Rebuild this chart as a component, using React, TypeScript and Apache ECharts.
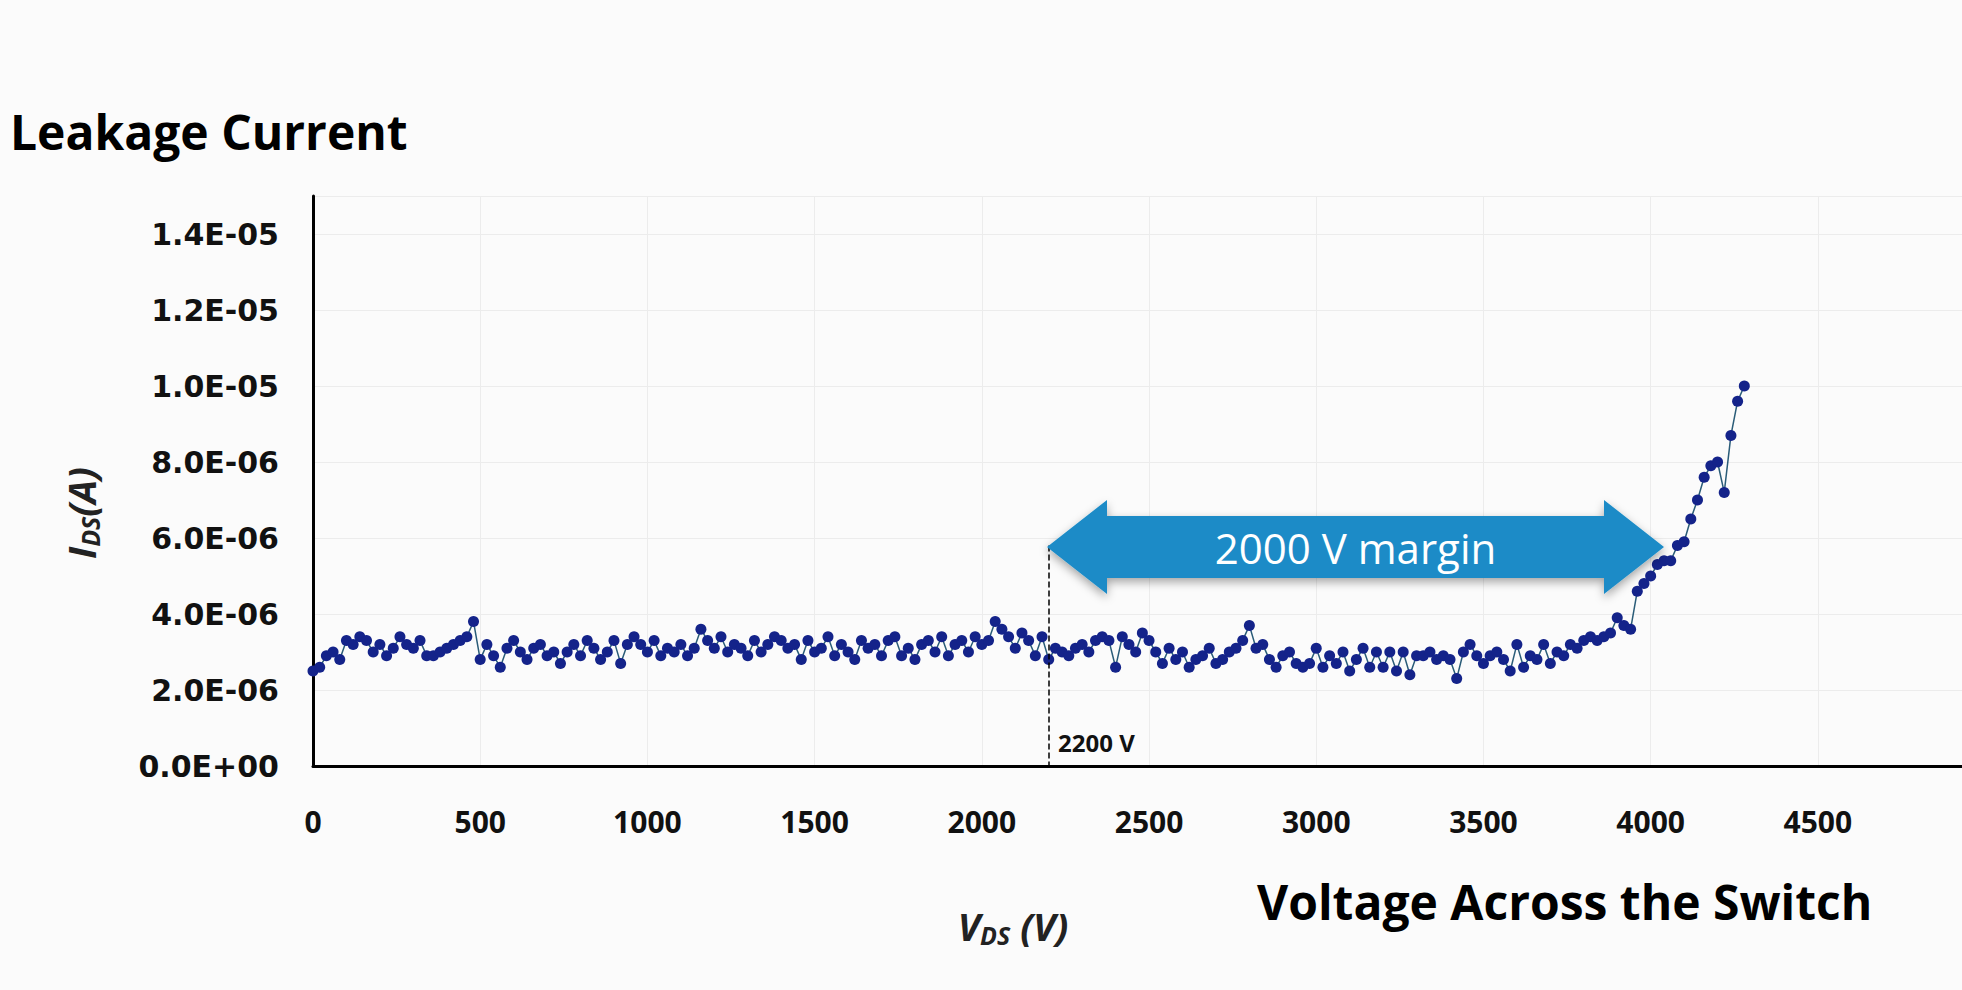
import React, { useEffect, useRef } from "react";
import * as echarts from "echarts";

// leakage current, in microamps, one reading every 20 V from 0 V
const stepVolts = 20;
const currentMicroA = [
  2.5, 2.6, 2.9, 3.0, 2.8, 3.3, 3.2, 3.4, 3.3, 3.0,
  3.2, 2.9, 3.1, 3.4, 3.2, 3.1, 3.3, 2.9, 2.9, 3.0,
  3.1, 3.2, 3.3, 3.4, 3.8, 2.8, 3.2, 2.9, 2.6, 3.1,
  3.3, 3.0, 2.8, 3.1, 3.2, 2.9, 3.0, 2.7, 3.0, 3.2,
  2.9, 3.3, 3.1, 2.8, 3.0, 3.3, 2.7, 3.2, 3.4, 3.2,
  3.0, 3.3, 2.9, 3.1, 3.0, 3.2, 2.9, 3.1, 3.6, 3.3,
  3.1, 3.4, 3.0, 3.2, 3.1, 2.9, 3.3, 3.0, 3.2, 3.4,
  3.3, 3.1, 3.2, 2.8, 3.3, 3.0, 3.1, 3.4, 2.9, 3.2,
  3.0, 2.8, 3.3, 3.1, 3.2, 2.9, 3.3, 3.4, 2.9, 3.1,
  2.8, 3.2, 3.3, 3.0, 3.4, 2.9, 3.2, 3.3, 3.0, 3.4,
  3.2, 3.3, 3.8, 3.6, 3.4, 3.1, 3.5, 3.3, 2.9, 3.4,
  2.8, 3.1, 3.0, 2.9, 3.1, 3.2, 3.0, 3.3, 3.4, 3.3,
  2.6, 3.4, 3.2, 3.0, 3.5, 3.3, 3.0, 2.7, 3.1, 2.8,
  3.0, 2.6, 2.8, 2.9, 3.1, 2.7, 2.8, 3.0, 3.1, 3.3,
  3.7, 3.1, 3.2, 2.8, 2.6, 2.9, 3.0, 2.7, 2.6, 2.7,
  3.1, 2.6, 2.9, 2.7, 3.0, 2.5, 2.8, 3.1, 2.6, 3.0,
  2.6, 3.0, 2.5, 3.0, 2.4, 2.9, 2.9, 3.0, 2.8, 2.9,
  2.8, 2.3, 3.0, 3.2, 2.9, 2.7, 2.9, 3.0, 2.8, 2.5,
  3.2, 2.6, 2.9, 2.8, 3.2, 2.7, 3.0, 2.9, 3.2, 3.1,
  3.3, 3.4, 3.3, 3.4, 3.5, 3.9, 3.7, 3.6, 4.6, 4.8,
  5.0, 5.3, 5.4, 5.4, 5.8, 5.9, 6.5, 7.0, 7.6, 7.9,
  8.0, 7.2, 8.7, 9.6, 10.0,
];

const marginStartV = 2200;
const marginTopA = 5.8e-6;

const fmtSci = (v: number) => {
  const [m, e] = v.toExponential(1).split("e");
  const n = parseInt(e, 10);
  return m + "E" + (n < 0 ? "-" : "+") + String(Math.abs(n)).padStart(2, "0");
};

const App: React.FC = () => {
  const chartRef = useRef<HTMLDivElement | null>(null);

  useEffect(() => {
    document.body.style.margin = "0";
    if (!chartRef.current) return;
    const chart = echarts.init(chartRef.current, null, { renderer: "svg" });

    const points = currentMicroA.map((c, i) => [i * stepVolts, c * 1e-6]);

    // double arrow, pixel layout
    const ax1 = 1047, ax2 = 1664, ay = 547, sh = 31, hh = 47, hl = 60;
    const arrow: number[][] = [
      [ax1, ay], [ax1 + hl, ay - hh], [ax1 + hl, ay - sh], [ax2 - hl, ay - sh],
      [ax2 - hl, ay - hh], [ax2, ay], [ax2 - hl, ay + hh], [ax2 - hl, ay + sh],
      [ax1 + hl, ay + sh], [ax1 + hl, ay + hh],
    ];

    chart.setOption({
      animation: false,
      backgroundColor: "#fbfbfb",
      grid: { left: 313, right: 0, top: 196, bottom: 224 },
      xAxis: {
        type: "value",
        min: 0,
        max: 4931,
        interval: 500,
        axisLine: { lineStyle: { color: "#000", width: 3 } },
        axisTick: { show: false },
        splitLine: { lineStyle: { color: "#ececec" } },
        axisLabel: {
          showMaxLabel: false,
          margin: 40,
          formatter: (v: number) => String(v),
          color: "#111",
          fontWeight: "bold",
          fontSize: 30,
          fontFamily: "Open Sans, sans-serif",
        },
      },
      yAxis: {
        type: "value",
        min: 0,
        max: 1.5e-5,
        interval: 2e-6,
        axisLine: { show: true, lineStyle: { color: "#000", width: 3 } },
        axisTick: { show: false },
        splitLine: { lineStyle: { color: "#ececec" } },
        axisLabel: {
          showMaxLabel: false,
          margin: 34,
          formatter: fmtSci,
          color: "#111",
          fontWeight: "bold",
          fontSize: 30,
          fontFamily: "DejaVu Sans, sans-serif",
        },
      },
      series: [
        {
          type: "line",
          data: points,
          symbol: "circle",
          symbolSize: 11,
          itemStyle: { color: "#14238a" },
          lineStyle: { color: "#2a5c78", width: 1.5 },
          markLine: {
            silent: true,
            symbol: "none",
            label: { show: false },
            lineStyle: { color: "#000", type: "dashed", width: 1.5 },
            data: [[{ coord: [marginStartV, marginTopA] }, { coord: [marginStartV, 0] }]],
          },
        },
      ],
      graphic: [
        {
          type: "polygon",
          shape: { points: arrow },
          style: { fill: "#1a8bc7", shadowBlur: 10, shadowColor: "rgba(0,0,0,0.35)", shadowOffsetY: 4 },
          z: 10,
        },
        {
          type: "text",
          x: (ax1 + ax2) / 2,
          y: ay,
          style: {
            text: "2000 V margin",
            fill: "#fff",
            fontSize: 42,
            fontFamily: "Open Sans, sans-serif",
            align: "center",
            verticalAlign: "middle",
          },
          z: 11,
        },
        {
          type: "text",
          x: 1058,
          y: 742,
          style: {
            text: "2200 V",
            fill: "#111",
            fontSize: 24,
            fontWeight: "bold",
            fontFamily: "Open Sans, sans-serif",
            verticalAlign: "middle",
          },
        },
        {
          type: "text",
          x: 10,
          y: 131,
          style: {
            text: "Leakage Current",
            fill: "#000",
            fontSize: 48,
            fontWeight: "bold",
            fontFamily: "Open Sans, sans-serif",
            verticalAlign: "middle",
          },
        },
        {
          type: "text",
          x: 1257,
          y: 901,
          style: {
            text: "Voltage Across the Switch",
            fill: "#000",
            fontSize: 48,
            fontWeight: "bold",
            fontFamily: "Open Sans, sans-serif",
            verticalAlign: "middle",
          },
        },
        {
          type: "text",
          x: 1013,
          y: 926,
          style: {
            text: "{v|V}{s|DS}{v| (V)}",
            align: "center",
            verticalAlign: "middle",
            rich: {
              v: { fontSize: 38, fontWeight: "bold", fontStyle: "italic", fill: "#222", fontFamily: "Open Sans, sans-serif" },
              s: { fontSize: 25, fontWeight: "bold", fontStyle: "italic", fill: "#222", fontFamily: "Open Sans, sans-serif", padding: [18, 0, 0, 0] },
            },
          },
        },
        {
          type: "text",
          x: 81,
          y: 513,
          rotation: Math.PI / 2,
          style: {
            text: "{v|I}{s|DS}{v|(A)}",
            align: "center",
            verticalAlign: "middle",
            rich: {
              v: { fontSize: 38, fontWeight: "bold", fontStyle: "italic", fill: "#222", fontFamily: "Open Sans, sans-serif" },
              s: { fontSize: 25, fontWeight: "bold", fontStyle: "italic", fill: "#222", fontFamily: "Open Sans, sans-serif", padding: [18, 0, 0, 0] },
            },
          },
        },
      ],
    });

    return () => {
      chart.dispose();
    };
  }, []);

  return <div ref={chartRef} style={{ width: "1962px", height: "990px" }} />;
};

export default App;
